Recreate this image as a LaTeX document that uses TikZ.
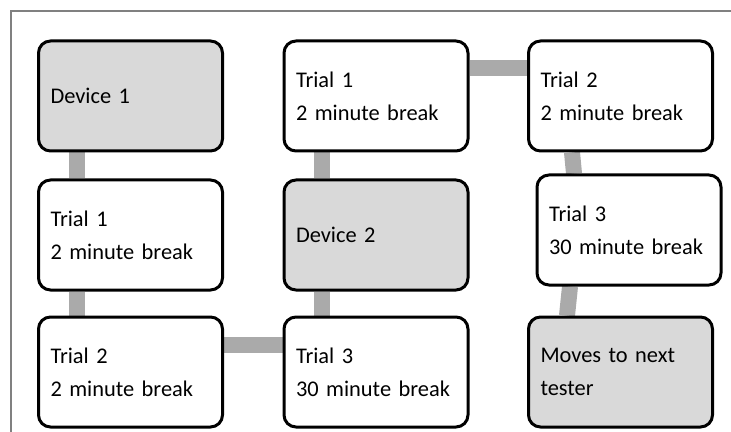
\documentclass[tikz,border=0pt]{standalone}
\usepackage{fontspec}
\setmainfont{Carlito}
\usetikzlibrary{backgrounds}

\definecolor{boxgray}{RGB}{217,217,217}
\definecolor{linkgray}{RGB}{170,170,170}
\definecolor{framegray}{RGB}{128,128,128}

\begin{document}
\begin{tikzpicture}[x = 0.5pt, y = -0.5pt, font = \fontsize{11.2}{16.5}\selectfont,
	stage/.style = {draw = black, line width = 1.5pt, rounded corners = 6pt, fill = white,
		text width = 80pt, inner xsep = 6pt, minimum height = 55pt, align = left},
	device/.style = {stage, fill = boxgray},
	link/.style = {draw = linkgray, line width = 8pt}]

	% Definitions
	
	\def\ca{130.5}		% Column centres
	\def\cb{376}
	\def\cc{620.5}
	
	\def\ra{96}		% Row centres
	\def\rb{235}
	\def\rc{372}
	
	\useasboundingbox (0, 0) rectangle (731, 432);
	
	% Draw frame
	
	\draw [framegray, line width = 1pt] (11, 432) -- (11, 11) -- (731, 11);
	
	% Draw stages
	
	\node [device] (dev1) at (\ca, \ra) {Device 1};
	\node [stage] (trial1a) at (\ca, \rb) {Trial 1\\2 minute break};
	\node [stage] (trial2a) at (\ca, \rc) {Trial 2\\2 minute break};
	
	\node [stage] (trial1b) at (\cb, \ra) {Trial 1\\2 minute break};
	\node [device] (dev2) at (\cb, \rb) {Device 2};
	\node [stage] (trial3b) at (\cb, \rc) {Trial 3\\30 minute break};
	
	\node [stage] (trial2c) at (\cc, \ra) {Trial 2\\2 minute break};
	\node [stage] (trial3c) at (629, 230) {Trial 3\\30 minute break};
	\node [device] (next) at (\cc, \rc) {Moves to next\\tester};
	
	% Draw links
	
	\begin{scope}[on background layer]
		\draw [link] ([xshift = -27pt] dev1.south) -- ([xshift = -27pt] trial1a.north);
		\draw [link] ([xshift = -27pt] trial1a.south) -- ([xshift = -27pt] trial2a.north);
		\draw [link] ([yshift = 13.5pt] trial2a.east) -- ([yshift = 13.5pt] trial3b.west);
		\draw [link] ([xshift = -27pt] trial3b.north) -- ([xshift = -27pt] dev2.south);
		\draw [link] ([xshift = -27pt] dev2.north) -- ([xshift = -27pt] trial1b.south);
		\draw [link] ([yshift = 13.75pt] trial1b.east) -- ([yshift = 13.75pt] trial2c.west);
		\draw [link] ([xshift = -24.25pt] trial2c.south) -- ([xshift = -27.5pt] trial3c.north);
		\draw [link] ([xshift = -29.5pt] trial3c.south) -- ([xshift = -26.75pt] next.north);
	\end{scope}
	
\end{tikzpicture}
\end{document}
